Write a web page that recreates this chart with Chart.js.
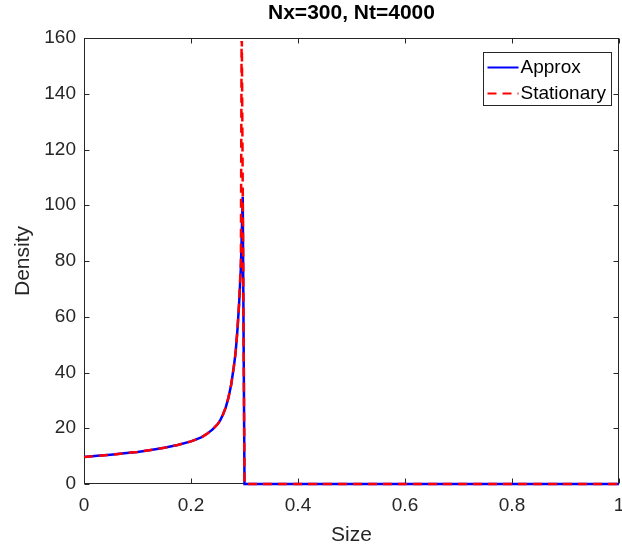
<!DOCTYPE html>
<html>
<head>
<meta charset="utf-8">
<script src="https://cdn.jsdelivr.net/npm/chart.js@4.4.1/dist/chart.umd.min.js"></script>
<style>
  body { margin: 0; background: #fff; }
  canvas { display: block; }
</style>
</head>
<body>
<canvas id="densityChart" width="622" height="549"></canvas>
<script>
// Values
const approxSize = [0, 0.025, 0.05, 0.075, 0.1, 0.125, 0.15, 0.175, 0.2, 0.21, 0.22, 0.23, 0.24, 0.25, 0.255, 0.26, 0.265, 0.27, 0.275, 0.28, 0.2833, 0.2867, 0.29, 0.2933, 0.2967, 0.3, 1];
const approxDensity = [9.7, 10.1, 10.5, 11.0, 11.5, 12.2, 13.0, 14.0, 15.3, 16.0, 16.8, 18.0, 19.5, 21.5, 23.0, 25.0, 27.5, 31, 35.5, 42, 47, 55, 65, 78, 103, 0, 0];
const stationarySize = [0, 0.025, 0.05, 0.075, 0.1, 0.125, 0.15, 0.175, 0.2, 0.21, 0.22, 0.23, 0.24, 0.25, 0.255, 0.26, 0.265, 0.27, 0.275, 0.28, 0.2833, 0.2867, 0.29, 0.2933, 0.2947, 0.3, 1];
const stationaryDensity = [9.7, 10.1, 10.5, 11.0, 11.5, 12.2, 13.0, 14.0, 15.3, 16.0, 16.8, 18.0, 19.5, 21.5, 23.0, 25.0, 27.5, 31, 35.5, 42, 47, 55, 65, 80, 170, 0, 0];
const seriesNames = ['Approx', 'Stationary'];
const chartTitle = 'Nx=300, Nt=4000';

const FONT = "'Liberation Sans', Arial, sans-serif";
const AXIS_COLOR = '#262626';

function toPoints(xs, ys) {
  return xs.map((x, i) => ({ x: x, y: ys[i] }));
}

// MATLAB-like axes: box and inward ticks under the data, legend and title on top
const matlabAxesPlugin = {
  id: 'matlabAxes',
  beforeDatasetsDraw(chart) {
    const { ctx, chartArea: a, scales: { x, y } } = chart;
    const left = Math.round(a.left) + 0.5;
    const right = Math.round(a.right) - 0.5;
    const top = Math.round(a.top) + 0.5;
    const bottom = Math.round(a.bottom) - 0.5;
    const tickLen = 5;

    ctx.save();
    ctx.strokeStyle = AXIS_COLOR;
    ctx.lineWidth = 1;
    ctx.strokeRect(left, top, right - left, bottom - top);

    ctx.beginPath();
    x.ticks.forEach(t => {
      const px = Math.round(x.getPixelForValue(t.value)) + 0.5;
      ctx.moveTo(px, bottom); ctx.lineTo(px, bottom - tickLen);
      ctx.moveTo(px, top); ctx.lineTo(px, top + tickLen);
    });
    y.ticks.forEach(t => {
      const py = Math.round(y.getPixelForValue(t.value)) + 0.5;
      ctx.moveTo(left, py); ctx.lineTo(left + tickLen, py);
      ctx.moveTo(right, py); ctx.lineTo(right - tickLen, py);
    });
    ctx.stroke();
    ctx.restore();
  },
  afterDatasetsDraw(chart) {
    const { ctx, chartArea: a } = chart;
    ctx.save();
    ctx.strokeStyle = AXIS_COLOR;
    ctx.lineWidth = 1;

    // Legend box in the top right corner
    const boxW = 128, boxH = 53;
    const bx = Math.round(a.right - 8 - boxW) + 0.5;
    const by = Math.round(a.top + 14) + 0.5;
    ctx.fillStyle = '#fff';
    ctx.fillRect(bx, by, boxW, boxH);
    ctx.strokeRect(bx, by, boxW, boxH);

    const styles = [
      { color: '#0000ff', dash: [] },
      { color: '#ff0000', dash: [9, 6] }
    ];
    ctx.font = '19px ' + FONT;
    ctx.textBaseline = 'middle';
    ctx.textAlign = 'left';
    seriesNames.forEach((name, i) => {
      const rowY = by + 15 + i * 26;
      ctx.beginPath();
      ctx.setLineDash(styles[i].dash);
      ctx.strokeStyle = styles[i].color;
      ctx.lineWidth = 2;
      ctx.moveTo(bx + 4, rowY);
      ctx.lineTo(bx + 35, rowY);
      ctx.stroke();
      ctx.setLineDash([]);
      ctx.fillStyle = '#000';
      ctx.fillText(name, bx + 37, rowY);
    });
    ctx.restore();
  },
  afterDraw(chart) {
    const { ctx, chartArea: a } = chart;
    ctx.save();
    ctx.font = 'bold 21px ' + FONT;
    ctx.fillStyle = '#000';
    ctx.textAlign = 'center';
    ctx.textBaseline = 'middle';
    ctx.fillText(chartTitle, (a.left + a.right) / 2, 13);
    ctx.restore();
  }
};

const ctx = document.getElementById('densityChart').getContext('2d');
const densityChart = new Chart(ctx, {
  type: 'scatter',
  data: {
    datasets: [
      {
        label: seriesNames[0],
        data: toPoints(approxSize, approxDensity),
        showLine: true,
        borderColor: '#0000ff',
        borderWidth: 2.5,
        pointRadius: 0,
        clip: { left: 2, top: 0, right: 2, bottom: 3 },
        order: 1
      },
      {
        label: seriesNames[1],
        data: toPoints(stationarySize, stationaryDensity),
        showLine: true,
        borderColor: '#ff0000',
        borderWidth: 2.5,
        borderDash: [9, 6],
        pointRadius: 0,
        clip: { left: 2, top: -3, right: 2, bottom: 3 },
        order: 0
      }
    ]
  },
  options: {
    responsive: false,
    animation: false,
    layout: { padding: { top: 38, right: 3, left: 0, bottom: 0 } },
    plugins: {
      legend: { display: false },
      title: { display: false },
      tooltip: { enabled: false }
    },
    scales: {
      x: {
        type: 'linear',
        min: 0,
        max: 1,
        ticks: {
          stepSize: 0.2,
          padding: 10,
          color: AXIS_COLOR,
          maxRotation: 0,
          autoSkip: false,
          font: { family: FONT, size: 19 },
          callback: v => String(Number(v.toFixed(1)))
        },
        grid: { display: false, drawTicks: false },
        border: { display: false },
        title: {
          display: true,
          text: 'Size',
          color: AXIS_COLOR,
          font: { family: FONT, size: 21 },
          padding: { top: 0, bottom: 1 }
        },
        afterFit(scale) {
          scale.height = 65;
          scale.paddingLeft = 0;
          scale.paddingRight = 0;
        }
      },
      y: {
        type: 'linear',
        min: 0,
        max: 160,
        ticks: {
          stepSize: 20,
          padding: 8,
          color: AXIS_COLOR,
          font: { family: FONT, size: 19 }
        },
        grid: { display: false, drawTicks: false },
        border: { display: false },
        title: {
          display: true,
          text: 'Density',
          color: AXIS_COLOR,
          font: { family: FONT, size: 21 },
          padding: { top: 11, bottom: 0 }
        },
        afterFit(scale) {
          scale.width = 84;
          scale.paddingTop = 0;
          scale.paddingBottom = 0;
        }
      }
    }
  },
  plugins: [matlabAxesPlugin]
});
</script>
</body>
</html>
